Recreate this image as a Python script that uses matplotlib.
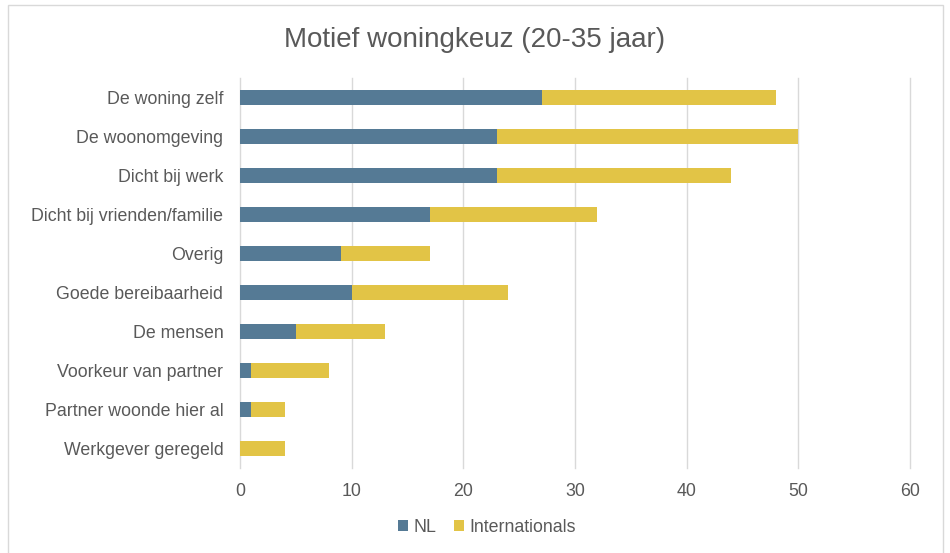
import matplotlib.pyplot as plt
from matplotlib.patches import Rectangle

categories = ["De woning zelf", "De woonomgeving", "Dicht bij werk",
              "Dicht bij vrienden/familie", "Overig", "Goede bereibaarheid",
              "De mensen", "Voorkeur van partner", "Partner woonde hier al",
              "Werkgever geregeld"]
nl = [27, 23, 23, 17, 9, 10, 5, 1, 1, 0]
internationals = [21, 27, 21, 15, 8, 14, 8, 7, 3, 4]
xticks = [0, 10, 20, 30, 40, 50, 60]

plt.rcParams['font.family'] = ['Liberation Sans', 'DejaVu Sans']
text_color = "#595959"

fig = plt.figure(figsize=(9.5, 5.53), dpi=100)
ax = fig.add_axes([240 / 950, 1 - 468 / 553, 670 / 950, 390 / 553])

y = list(range(len(categories)))
ax.barh(y, nl, height=0.41, color="#557A95", label="NL", zorder=3)
ax.barh(y, internationals, left=nl, height=0.41, color="#E2C446",
        label="Internationals", zorder=3)

ax.set_ylim(len(categories) - 0.5, -0.5)
ax.set_xlim(0, 60)
ax.set_xticks(xticks)
ax.set_yticks(y)
ax.set_yticklabels(categories)
ax.tick_params(axis="both", length=0, labelsize=12.8, colors=text_color)
ax.tick_params(axis="y", pad=12)
ax.tick_params(axis="x", pad=11)
ax.grid(axis="x", color="#d9d9d9", linewidth=1, zorder=0)
for g in ax.get_xgridlines():
    g.set_clip_on(False)
for s in ax.spines.values():
    s.set_visible(False)

fig.text(0.5, 1 - 40 / 553, "Motief woningkeuz (20-35 jaar)", ha="center",
         va="center", fontsize=20, color=text_color)

ax.legend(loc="center", bbox_to_anchor=(487 / 950, 1 - 527 / 553),
          bbox_transform=fig.transFigure, ncol=2, frameon=False,
          fontsize=12.8, labelcolor=text_color, handlelength=0.55,
          handleheight=0.55, handletextpad=0.3, columnspacing=1.0)

fig.patches.append(Rectangle((8 / 950, -0.01), 935 / 950, 1 - 5 / 553 + 0.01,
                             transform=fig.transFigure, fill=False,
                             edgecolor="#d9d9d9", linewidth=1))

fig.savefig("out.png", dpi=100)
